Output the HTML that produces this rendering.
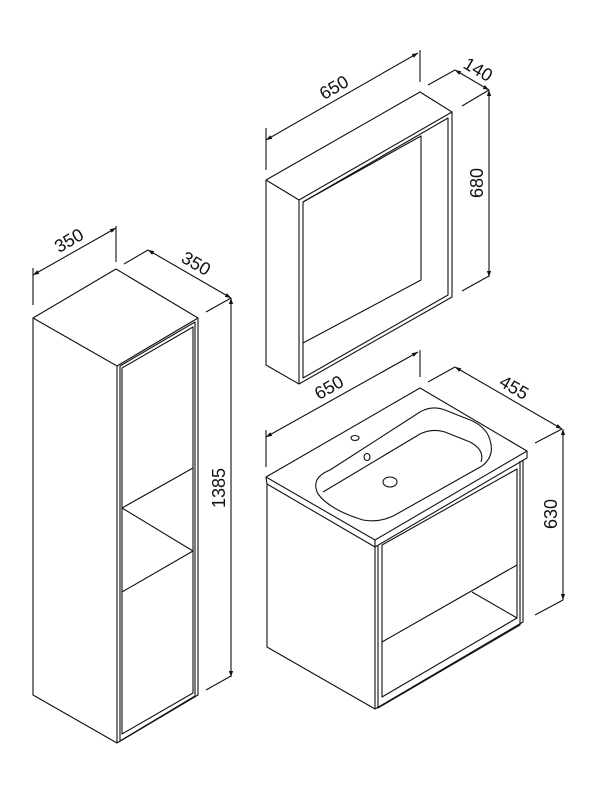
<!DOCTYPE html>
<html><head><meta charset="utf-8"><style>
html,body{margin:0;padding:0;background:#fff;}
svg{display:block;}
text{font-family:"Liberation Sans",sans-serif;font-size:18px;fill:#111;}
</style></head><body>
<svg width="600" height="800" viewBox="0 0 600 800" xmlns="http://www.w3.org/2000/svg">
<defs>
<marker id="a" viewBox="0 0 10 10" refX="10" refY="5" markerWidth="9" markerHeight="6" orient="auto-start-reverse" markerUnits="userSpaceOnUse"><path d="M0,1.5 L10,5 L0,8.5 z" fill="#111"/></marker>
</defs>
<g fill="none" stroke="#111" stroke-width="1.1" stroke-linejoin="round">
<!-- Tall cabinet -->
<path d="M33,318 L116,269 L198,318 L117,366 Z"/>
<path d="M33,318 L33,695 L117,743 L198,695 L198,318"/>
<path d="M117,366 L117,743"/>
<path d="M120,366 L195,322 L195,696 L120,741 Z"/>
<path d="M122,368 L193,327 L193,693 L122,734 Z"/>
<path d="M122,508 L193,468 M122,508 L193,551 M122,592 L193,551"/>
<!-- dims tall -->
<path d="M33,305 L33,268 M116,262 L116,226"/>
<path d="M33,275 L116,228" marker-start="url(#a)" marker-end="url(#a)"/>
<path d="M124,264 L148,250 M206,312 L231,298"/>
<path d="M148,250 L231,298" marker-start="url(#a)" marker-end="url(#a)"/>
<path d="M206,690 L231,676"/>
<path d="M231,298 L231,677" marker-start="url(#a)" marker-end="url(#a)"/>
<!-- Mirror -->
<path d="M266,180 L420,92 L452,112 L299,200 Z"/>
<path d="M266,180 L266,365 L299,384 L452,297 L452,112"/>
<path d="M299,200 L299,384"/>
<path d="M303,202 L448,118 L448,295 L303,378 Z"/>
<path d="M303,202 L421,136 L421,280 L303,343"/>
<path d="M266,170 L266,128 M420,82 L420,50"/>
<path d="M266,140 L418,53" marker-start="url(#a)" marker-end="url(#a)"/>
<path d="M428,85 L455,70 M462,106 L489,90"/>
<path d="M455,70 L489,90" marker-start="url(#a)" marker-end="url(#a)"/>
<path d="M462,291 L489,276"/>
<path d="M489,90 L489,277" marker-start="url(#a)" marker-end="url(#a)"/>
<!-- Vanity -->
<path d="M266,477 L420,388 L527,451 L375,540 Z"/>
<path d="M266,477 L267,484 L375,547 L527,458 L527,451 M375,540 L375,547"/>
<path d="M267,484 L267,647 L375,709 L523,622 L523,460"/>
<path d="M375,547 L375,709 M378,546 L378,708 L520,625 L520,461"/>
<path d="M382,545 L517,469 L517,618 L382,697 Z"/>
<path d="M382,642 L517,565 M472,592 L517,618"/>
<!-- basin -->
<path d="M330,470 Q310,478 318,494 Q330,510 363,520 Q380,523 395,515 L482,466 Q495,456 490,440 Q486,425 465,418 L445,410 Q432,405 420,412 Z"/>
<path d="M323,492 L420,434 Q432,428 445,432 L470,442 Q485,450 481,462"/>
<ellipse cx="355" cy="438" rx="4" ry="2.5"/>
<ellipse cx="367" cy="457" rx="3" ry="3.5"/>
<ellipse cx="390" cy="482" rx="7" ry="5"/>
<path d="M266,467 L266,430 M420,377 L420,350"/>
<path d="M266,437 L418,352" marker-start="url(#a)" marker-end="url(#a)"/>
<path d="M428,382 L455,367 M535,443 L562,429"/>
<path d="M455,367 L562,429" marker-start="url(#a)" marker-end="url(#a)"/>
<path d="M535,615 L563,600"/>
<path d="M563,429 L563,600" marker-start="url(#a)" marker-end="url(#a)"/>
</g>
<text transform="translate(75,251) rotate(-30)" y="-6" text-anchor="middle">350</text>
<text transform="translate(190,274) rotate(30)" y="-6" text-anchor="middle">350</text>
<text transform="translate(231,488) rotate(-90)" y="-6" text-anchor="middle">1385</text>
<text transform="translate(340,98) rotate(-30)" y="-6" text-anchor="middle">650</text>
<text transform="translate(472,80) rotate(30)" y="-6" text-anchor="middle">140</text>
<text transform="translate(489,183) rotate(-90)" y="-6" text-anchor="middle">680</text>
<text transform="translate(335,398) rotate(-30)" y="-6" text-anchor="middle">650</text>
<text transform="translate(508,398) rotate(30)" y="-6" text-anchor="middle">455</text>
<text transform="translate(563,514) rotate(-90)" y="-6" text-anchor="middle">630</text>
</svg>
</body></html>
